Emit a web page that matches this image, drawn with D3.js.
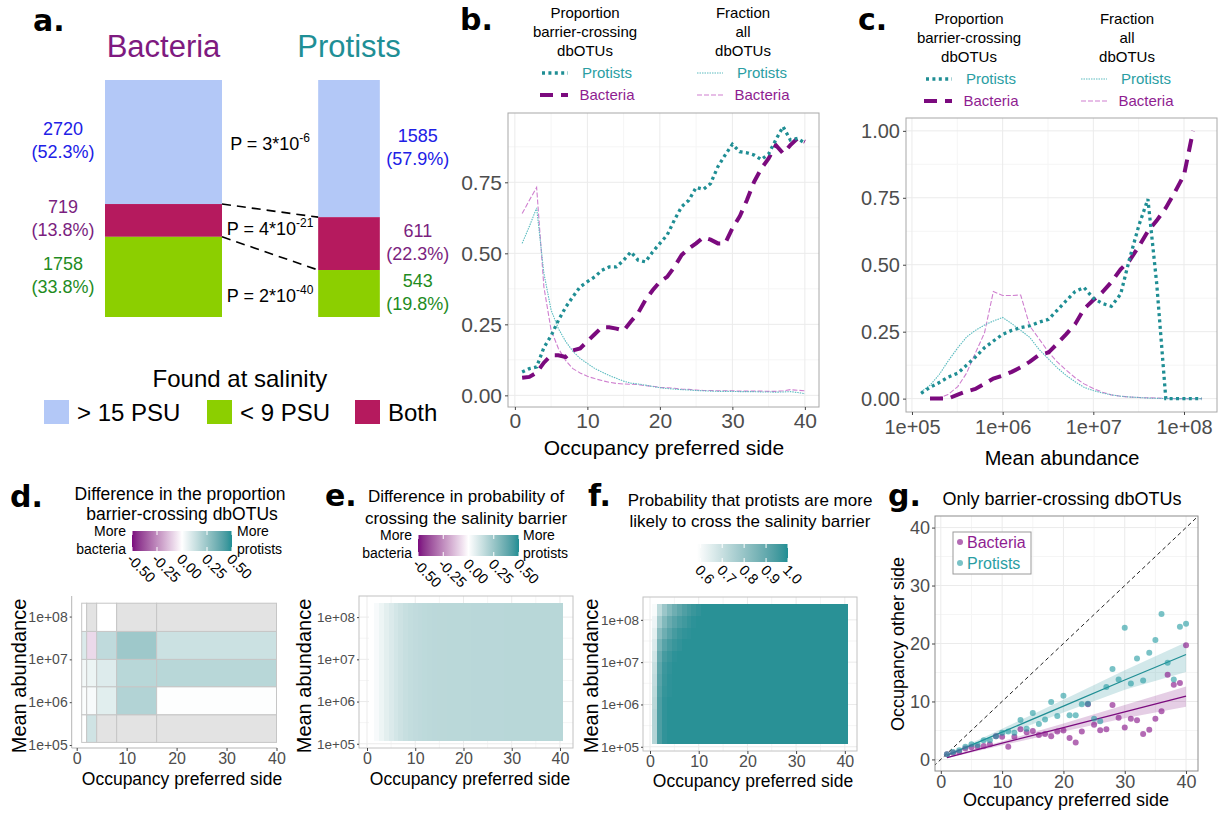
<!DOCTYPE html>
<html>
<head>
<meta charset="utf-8">
<script src="https://cdn.jsdelivr.net/npm/d3@7"></script>
<style>
body { margin: 0; background: #fff; }
</style>
</head>
<body>
<svg id="fig" width="1225" height="814"></svg>
<script>
// ---------- data ----------
// panel a
const groups = ["Bacteria", "Protists"];
const salinityCats = ["> 15 PSU", "Both", "< 9 PSU"];          // stacked top -> bottom
const legendCats = ["> 15 PSU", "< 9 PSU", "Both"];
const bacteriaCounts = [2720, 719, 1758];
const protistCounts = [1585, 611, 543];
const pMantissa = [3, 4, 2];
const pExponent = [-6, -21, -40];

// panel b (x = occupancy preferred side)
const occupancy = [1,2,3,4,5,6,7,8,9,10,11,12,13,14,15,16,17,18,19,20,21,22,23,24,25,26,27,28,29,30,31,32,33,34,35,36,37,38,39,40];
const propProtists = [0.082,0.094,0.10,0.168,0.21,0.264,0.31,0.347,0.382,0.40,0.417,0.44,0.452,0.452,0.476,0.505,0.476,0.47,0.505,0.535,0.564,0.617,0.664,0.687,0.732,0.725,0.746,0.805,0.846,0.884,0.858,0.854,0.846,0.83,0.85,0.9,0.946,0.899,0.905,0.887];
const propBacteria = [0.062,0.065,0.08,0.115,0.141,0.141,0.135,0.158,0.165,0.19,0.215,0.24,0.24,0.235,0.228,0.26,0.29,0.335,0.37,0.40,0.417,0.452,0.494,0.517,0.535,0.556,0.548,0.535,0.535,0.588,0.629,0.687,0.752,0.799,0.834,0.881,0.852,0.881,0.905,0.893];
const fracProtists = [0.535,0.595,0.66,0.43,0.30,0.235,0.19,0.155,0.13,0.112,0.095,0.082,0.07,0.06,0.05,0.043,0.04,0.036,0.031,0.027,0.024,0.022,0.02,0.019,0.017,0.016,0.015,0.014,0.014,0.014,0.013,0.013,0.013,0.012,0.012,0.011,0.012,0.013,0.01,0.006];
const fracBacteria = [0.64,0.687,0.732,0.382,0.229,0.165,0.123,0.094,0.079,0.067,0.059,0.052,0.046,0.042,0.04,0.039,0.038,0.034,0.032,0.028,0.027,0.025,0.022,0.021,0.019,0.017,0.017,0.016,0.016,0.016,0.015,0.015,0.015,0.015,0.014,0.014,0.016,0.02,0.018,0.016];

// panel c (x = mean abundance)
const abundance = [1.26e5,1.58e5,2.0e5,2.5e5,3.2e5,4.0e5,5.0e5,6.3e5,7.9e5,1.0e6,1.26e6,1.58e6,2.0e6,2.5e6,3.2e6,4.0e6,5.0e6,6.3e6,7.9e6,1.0e7,1.26e7,1.58e7,2.0e7,2.5e7,3.2e7,4.0e7,5.0e7,6.3e7,7.9e7,1.0e8,1.26e8,1.58e8];
const propProtistsAb = [0.02,0.042,0.06,0.08,0.095,0.125,0.155,0.19,0.215,0.24,0.255,0.265,0.272,0.285,0.296,0.33,0.365,0.40,0.415,0.375,0.355,0.345,0.39,0.52,0.65,0.745,0.43,0,0,0,0,0];
const propBacteriaAb = [null,0,0,0,0.015,0.027,0.036,0.055,0.075,0.086,0.10,0.117,0.138,0.163,0.172,0.205,0.24,0.278,0.335,0.368,0.398,0.435,0.483,0.515,0.57,0.625,0.665,0.712,0.77,0.835,1.0,null];
const fracProtistsAb = [0.025,0.05,0.09,0.14,0.19,0.23,0.255,0.275,0.29,0.303,0.28,0.255,0.228,0.185,0.148,0.115,0.087,0.063,0.042,0.03,0.021,0.014,0.009,0.006,0.004,0.002,0.001,0,0,0,0,0];
const fracBacteriaAb = [null,0,0.003,0.015,0.045,0.095,0.17,0.245,0.40,0.385,0.385,0.387,0.27,0.225,0.174,0.137,0.107,0.078,0.055,0.038,0.024,0.014,0.009,0.006,0.004,0.003,0.002,0.001,0,0,0,0];

// panel d (binned difference, rows = abundance bins bottom -> top, cols = occupancy bins)
const occEdgesD = [1, 2, 4, 8, 16, 40];
const abEdgesD = [1.15e5, 5.1e5, 2.3e6, 1.0e7, 4.5e7, 2.05e8];
const diffD = [
  [0.0, 0.12, null, null, null],
  [0.01, 0.02, 0.075, 0.19, 0.005],
  [0.03, 0.047, 0.085, 0.175, 0.175],
  [0.09, -0.08, 0.16, 0.24, 0.13],
  [0.0, null, 0.0, null, null]
];

// panel e (modelled difference per occupancy)
const abExtentE = [1.17e5, 2.15e8];
const diffE = [0.0,0.02,0.045,0.07,0.09,0.11,0.125,0.14,0.15,0.155,0.16,0.163,0.166,0.168,0.17,0.17,0.171,0.171,0.172,0.172,0.172,0.173,0.173,0.173,0.174,0.174,0.174,0.174,0.175,0.175,0.175,0.175,0.175,0.175,0.175,0.175,0.175,0.175,0.175,0.175];

// panel f (probability; rows = abundance bands bottom -> top)
const abEdgesF = [1.23e5,2.31e5,4.35e5,8.17e5,1.53e6,2.88e6,5.42e6,1.02e7,1.91e7,3.6e7,6.76e7,1.27e8,2.39e8];
const probFHead = [
  [0.74,0.94,0.98,0.99,0.99,0.99,0.99,0.99,0.99,0.99],
  [0.74,0.94,0.98,0.99,0.99,0.99,0.99,0.99,0.99,0.99],
  [0.74,0.94,0.98,0.99,0.99,0.99,0.99,0.99,0.99,0.99],
  [0.73,0.94,0.98,0.99,0.99,0.99,0.99,0.99,0.99,0.99],
  [0.72,0.93,0.975,0.985,0.99,0.99,0.99,0.99,0.99,0.99],
  [0.71,0.92,0.97,0.985,0.99,0.99,0.99,0.99,0.99,0.99],
  [0.70,0.91,0.965,0.98,0.99,0.99,0.99,0.99,0.99,0.99],
  [0.68,0.89,0.95,0.97,0.985,0.99,0.99,0.99,0.99,0.99],
  [0.66,0.86,0.92,0.95,0.97,0.98,0.99,0.99,0.99,0.99],
  [0.64,0.82,0.88,0.92,0.95,0.97,0.98,0.985,0.99,0.99],
  [0.62,0.77,0.84,0.89,0.92,0.945,0.96,0.975,0.985,0.99],
  [0.60,0.72,0.79,0.84,0.88,0.91,0.935,0.955,0.97,0.98]
];
const probFTail = [0.99,0.99,0.99,0.99,0.99,0.99,0.99,0.99,0.99,0.99,0.99,0.99];

// panel g (only barrier-crossing dbOTUs)
const gProtists = [0.9,1.3,1.6,2.2,2.6,2.5,3.3,3.3,4.0,4.6,4.8,4.6,6.8,5.3,8.0,6.1,6.9,9.9,7.5,11.0,7.6,7.6,9.5,9.6,7.0,6.6,12.5,15.6,13.8,22.7,13.1,17.4,13.6,18.4,20.6,25.1,16.7,13.8,22.9,23.4];
const gBacteria = [0.9,1.15,1.3,1.9,2.1,2.2,2.3,2.6,4.0,3.9,2.2,3.9,5.2,4.7,4.9,4.2,4.4,4.0,4.8,5.0,3.7,2.9,4.8,9.5,6.0,5.05,5.2,9.4,7.2,5.5,7.0,6.75,4.4,5.1,7.0,8.3,14.6,12.9,13.2,19.7];
const fitX = [1, 10, 20, 30, 40];
const fitProt = [0.7, 4.7, 9.2, 13.7, 18.1];
const fitProtLo = [0.55, 4.1, 8.1, 12.0, 15.1];
const fitProtHi = [0.85, 5.3, 10.3, 15.4, 20.2];
const fitBac = [0.3, 2.8, 5.5, 8.2, 10.9];
const fitBacLo = [0.2, 2.45, 4.8, 7.1, 9.1];
const fitBacHi = [0.4, 3.15, 6.2, 9.4, 12.6];

// ---------- styles ----------
const FONT = '"Liberation Sans", Arial, sans-serif';
const TAGFONT = '"DejaVu Sans", sans-serif';
const TEAL = "#1f8e94", PURPLE = "#7b0a7e";
const TEAL_TXT = "#2a9ea3", PURPLE_TXT = "#8f1d91";
const salFill = {"> 15 PSU": "#b3c8f7", "< 9 PSU": "#8ccf00", "Both": "#b51a5e"};
const salText = {"> 15 PSU": "#2020e6", "< 9 PSU": "#1f8c1f", "Both": "#7b1f80"};
const lineStyles = {
  propP: {stroke: TEAL, width: 3.3, dash: "3,3.4"},
  propB: {stroke: PURPLE, width: 4, dash: "13,8"},
  fracP: {stroke: "#5cbcc0", width: 1.1, dash: "1.5,1"},
  fracB: {stroke: "#cf7fcf", width: 1.1, dash: "5,2"}
};

const svg = d3.select("#fig");
svg.append("rect").attr("width", 1225).attr("height", 814).attr("fill", "#fff");
const defs = svg.append("defs");

function txt(x, y, s, size, opts = {}) {
  return svg.append("text").attr("x", x).attr("y", y).text(s)
    .attr("font-family", opts.family || FONT).attr("font-size", size)
    .attr("fill", opts.fill || "#000").attr("text-anchor", opts.anchor || "start")
    .attr("font-weight", opts.weight || "normal");
}
function tag(x, y, s) { txt(x, y, s, 30, {family: TAGFONT, weight: "bold"}); }
function yTitle(x, y, s, size) {
  svg.append("text").attr("transform", `translate(${x},${y}) rotate(-90)`).attr("text-anchor", "middle")
    .attr("font-family", FONT).attr("font-size", size).text(s);
}

function grid(g, xs, ys, xMaj, xMin, yMaj, yMin) {
  const [xa, xb] = xs.range(), [ya, yb] = ys.range();
  const add = (vals, isX, col) => g.append("g").selectAll("line").data(vals).join("line")
    .attr("x1", d => isX ? xs(d) : xa).attr("x2", d => isX ? xs(d) : xb)
    .attr("y1", d => isX ? ya : ys(d)).attr("y2", d => isX ? yb : ys(d))
    .attr("stroke", col).attr("stroke-width", 1);
  add(xMin, true, "#f5f5f5"); add(yMin, false, "#f5f5f5");
  add(xMaj, true, "#ebebeb"); add(yMaj, false, "#ebebeb");
}
function border(g, xs, ys, col) {
  const [xa, xb] = xs.range(), [ya, yb] = ys.range();
  g.append("rect").attr("x", xa).attr("y", yb).attr("width", xb - xa).attr("height", ya - yb)
    .attr("fill", "none").attr("stroke", col).attr("stroke-width", 1);
}
function styleAxis(g, size) {
  g.attr("font-family", FONT).attr("font-size", size);
  g.select(".domain").remove();
  g.selectAll(".tick line").attr("stroke", "#444");
  g.selectAll(".tick text").attr("fill", "#4d4d4d");
}
const sciFmt = d => "1e+0" + Math.round(Math.log10(d));

function styledPath(g, pts, st, line) {
  g.append("path").datum(pts).attr("d", line).attr("fill", "none")
    .attr("stroke", st.stroke).attr("stroke-width", st.width).attr("stroke-dasharray", st.dash);
}

// ========== panel a ==========
tag(33, 31, "a.");
const aTotals = [d3.sum(bacteriaCounts), d3.sum(protistCounts)];
const aCounts = [bacteriaCounts, protistCounts];
const ay = d3.scaleLinear().domain([0, 1]).range([80, 317]);
const aw = d3.scaleLinear().domain([0, aTotals[0]]).range([0, 117]);
const ax = d3.scalePoint().domain(groups).range([163.5, 349]);
const aSegs = groups.map((gname, gi) => {
  let cum = 0;
  return salinityCats.map((cat, ci) => {
    const frac = aCounts[gi][ci] / aTotals[gi];
    const s = {group: gname, cat, count: aCounts[gi][ci], frac, y0: cum, y1: cum + frac,
      x: ax(gname) - aw(aTotals[gi]) / 2, w: aw(aTotals[gi])};
    cum += frac;
    return s;
  });
});
groups.forEach((gname, gi) => {
  txt(ax(gname), 57, gname, 31, {anchor: "middle", fill: gi === 0 ? "#7e1a80" : "#1f8f96"});
});
svg.append("g").selectAll("rect").data(aSegs.flat()).join("rect")
  .attr("x", d => d.x).attr("width", d => d.w)
  .attr("y", d => ay(d.y0)).attr("height", d => ay(d.y1) - ay(d.y0))
  .attr("fill", d => salFill[d.cat]);
aSegs.forEach((segs, gi) => {
  segs.forEach(s => {
    const cx = gi === 0 ? s.x - 42 : s.x + s.w + 38;
    const cy = (ay(s.y0) + ay(s.y1)) / 2;
    txt(cx, cy - 7, String(s.count), 18, {anchor: "middle", fill: salText[s.cat]});
    txt(cx, cy + 16, "(" + (s.frac * 100).toFixed(1) + "%)", 18, {anchor: "middle", fill: salText[s.cat]});
  });
});
// dashed connectors between category boundaries
[0, 1].forEach(ci => {
  const b = aSegs[0][ci], p = aSegs[1][ci];
  svg.append("line").attr("x1", b.x + b.w).attr("y1", ay(b.y1))
    .attr("x2", p.x).attr("y2", ay(p.y1))
    .attr("stroke", "#000").attr("stroke-width", 1.6).attr("stroke-dasharray", "9,6");
});
salinityCats.forEach((cat, ci) => {
  const b = aSegs[0][ci], p = aSegs[1][ci];
  const top = Math.max(ay(b.y0), ay(p.y0)), bot = Math.min(ay(b.y1), ay(p.y1));
  const cx = (b.x + b.w + p.x) / 2;
  const t = txt(cx, (top + bot) / 2 + 8, "P = " + pMantissa[ci] + "*10", 18, {anchor: "middle"});
  t.append("tspan").attr("dy", -8).attr("font-size", 12).text(String(pExponent[ci]));
});
// legend
txt(240, 387, "Found at salinity", 24, {anchor: "middle"});
const legXs = {"> 15 PSU": 44, "< 9 PSU": 207, "Both": 355};
legendCats.forEach(cat => {
  svg.append("rect").attr("x", legXs[cat]).attr("y", 400).attr("width", 25).attr("height", 24).attr("fill", salFill[cat]);
  txt(legXs[cat] + 33, 421, cat, 24);
});

// ========== legends for b and c ==========
function lineLegend(ox, oy) {
  const left = 585 + ox, right = 743 + ox;
  ["Proportion", "barrier-crossing", "dbOTUs"].forEach((s, i) => txt(left, 18 + oy + i * 19, s, 15, {anchor: "middle"}));
  ["Fraction", "all", "dbOTUs"].forEach((s, i) => txt(right, 18 + oy + i * 19, s, 15, {anchor: "middle"}));
  const rows = [
    {y: 73, st: lineStyles.propP, x0: 542, x1: 568, tx: 607, label: "Protists", col: TEAL_TXT},
    {y: 95, st: lineStyles.propB, x0: 540, x1: 568, tx: 607, label: "Bacteria", col: PURPLE_TXT},
    {y: 73, st: lineStyles.fracP, x0: 697, x1: 723, tx: 762, label: "Protists", col: TEAL_TXT},
    {y: 95, st: lineStyles.fracB, x0: 697, x1: 723, tx: 762, label: "Bacteria", col: PURPLE_TXT}
  ];
  rows.forEach(r => {
    svg.append("line").attr("x1", r.x0 + ox).attr("x2", r.x1 + ox).attr("y1", r.y + oy).attr("y2", r.y + oy)
      .attr("stroke", r.st.stroke).attr("stroke-width", r.st.width).attr("stroke-dasharray", r.st.dash);
    txt(r.tx + ox, r.y + oy + 5, r.label, 15, {anchor: "middle", fill: r.col});
  });
}

// ========== panel b ==========
tag(460, 30, "b.");
lineLegend(0, 0);
const bx = d3.scaleLinear().domain([-0.95, 41.95]).range([508, 819]);
const by = d3.scaleLinear().domain([-0.041, 0.994]).range([407, 113]);
const gb = svg.append("g");
grid(gb, bx, by, [0, 10, 20, 30, 40], [5, 15, 25, 35], [0, 0.25, 0.5, 0.75], [0.125, 0.375, 0.625, 0.875]);
const bLine = d3.line().x(d => bx(d[0])).y(d => by(d[1]));
const zipOcc = arr => occupancy.map((o, i) => [o, arr[i]]);
styledPath(gb, zipOcc(fracBacteria), lineStyles.fracB, bLine);
styledPath(gb, zipOcc(fracProtists), lineStyles.fracP, bLine);
styledPath(gb, zipOcc(propBacteria), lineStyles.propB, bLine);
styledPath(gb, zipOcc(propProtists), lineStyles.propP, bLine);
border(gb, bx, by, "#a8a8a8");
styleAxis(svg.append("g").attr("transform", "translate(0,407)")
  .call(d3.axisBottom(bx).tickValues([0, 10, 20, 30, 40]).tickSize(3).tickPadding(3)), 21);
styleAxis(svg.append("g").attr("transform", "translate(508,0)")
  .call(d3.axisLeft(by).tickValues([0, 0.25, 0.5, 0.75]).tickFormat(d3.format(".2f")).tickSize(3).tickPadding(3)), 21);
txt(664, 455, "Occupancy preferred side", 21, {anchor: "middle"});

// ========== panel c ==========
tag(858, 30, "c.");
lineLegend(384, 6);
const cx = d3.scaleLog().domain([10 ** 4.934, 10 ** 8.364]).range([906, 1217]);
const cy = d3.scaleLinear().domain([-0.05, 1.048]).range([412, 118]);
const gc = svg.append("g");
grid(gc, cx, cy, [1e5, 1e6, 1e7, 1e8], [10 ** 5.5, 10 ** 6.5, 10 ** 7.5],
  [0, 0.25, 0.5, 0.75, 1], [0.125, 0.375, 0.625, 0.875]);
const cLine = d3.line().defined(d => d[1] != null).x(d => cx(d[0])).y(d => cy(d[1]));
const zipAb = arr => abundance.map((a, i) => [a, arr[i]]);
styledPath(gc, zipAb(fracBacteriaAb), lineStyles.fracB, cLine);
styledPath(gc, zipAb(fracProtistsAb), lineStyles.fracP, cLine);
styledPath(gc, zipAb(propBacteriaAb), lineStyles.propB, cLine);
styledPath(gc, zipAb(propProtistsAb), lineStyles.propP, cLine);
border(gc, cx, cy, "#a8a8a8");
styleAxis(svg.append("g").attr("transform", "translate(0,412)")
  .call(d3.axisBottom(cx).tickValues([1e5, 1e6, 1e7, 1e8]).tickFormat(sciFmt).tickSize(3).tickPadding(5)), 20);
styleAxis(svg.append("g").attr("transform", "translate(906,0)")
  .call(d3.axisLeft(cy).tickValues([0, 0.25, 0.5, 0.75, 1]).tickFormat(d3.format(".2f")).tickSize(3).tickPadding(3)), 20);
txt(1062, 465, "Mean abundance", 20, {anchor: "middle"});

// ========== colour scales + colorbar ==========
const divScale = d3.scaleLinear().domain([-0.5, 0, 0.5]).range([PURPLE, "#ffffff", TEAL])
  .interpolate(d3.interpolateLab).clamp(true);
const probScale = d3.scaleLinear().domain([0.585, 1.0]).range(["#ffffff", TEAL])
  .interpolate(d3.interpolateLab).clamp(true);

function colorbar(id, x0, x1, y0, y1, scale, ticks, fmt) {
  const dom = scale.domain();
  const d0 = dom[0], d1 = dom[dom.length - 1];
  const cb = d3.scaleLinear().domain([d0, d1]).range([x0, x1]);
  const grad = defs.append("linearGradient").attr("id", id);
  d3.range(0, 1.0001, 0.05).forEach(t => grad.append("stop")
    .attr("offset", t).attr("stop-color", scale(d0 + t * (d1 - d0))));
  svg.append("rect").attr("x", x0).attr("y", y0).attr("width", x1 - x0).attr("height", y1 - y0)
    .attr("fill", `url(#${id})`);
  ticks.forEach(t => {
    svg.append("line").attr("x1", cb(t)).attr("x2", cb(t)).attr("y1", y0).attr("y2", y0 + 4).attr("stroke", "#fff");
    svg.append("line").attr("x1", cb(t)).attr("x2", cb(t)).attr("y1", y1 - 4).attr("y2", y1).attr("stroke", "#fff");
    svg.append("text").attr("transform", `translate(${cb(t) - 6},${y1 + 9}) rotate(45)`)
      .attr("font-family", FONT).attr("font-size", 14.5).attr("fill", "#000").text(fmt(t));
  });
}
function moreLabels(xl, xr, y) {
  txt(xl, y, "More", 14, {anchor: "end"});
  txt(xl, y + 18, "bacteria", 14, {anchor: "end"});
  txt(xr, y, "More", 14);
  txt(xr, y + 18, "protists", 14);
}
const divTicks = [-0.5, -0.25, 0, 0.25, 0.5];
const fmt2 = d => d3.format(".2f")(d).replace("−", "-");

// ========== panel d ==========
tag(10, 507, "d.");
txt(180, 500, "Difference in the proportion", 17.5, {anchor: "middle"});
txt(182, 520, "barrier-crossing dbOTUs", 17.5, {anchor: "middle"});
colorbar("cbd", 132, 232, 531, 551, divScale, divTicks, fmt2);
moreLabels(126, 237, 536);
const dx = d3.scaleLinear().domain([-1, 40.1]).range([71.7, 277]);
const dy = d3.scaleLog().domain([10 ** 4.93, 10 ** 8.48]).range([748, 596]);
const dTiles = [];
diffD.forEach((row, r) => row.forEach((v, c) => dTiles.push({
  x0: occEdgesD[c], x1: occEdgesD[c + 1], y0: abEdgesD[r], y1: abEdgesD[r + 1], v})));
svg.append("g").selectAll("rect").data(dTiles).join("rect")
  .attr("x", d => dx(d.x0)).attr("width", d => dx(d.x1) - dx(d.x0))
  .attr("y", d => dy(d.y1)).attr("height", d => dy(d.y0) - dy(d.y1))
  .attr("fill", d => d.v == null ? "#e3e3e3" : divScale(d.v))
  .attr("stroke", "#c6c6c6").attr("stroke-width", 1);
svg.append("line").attr("x1", 71.7).attr("x2", 71.7).attr("y1", 596).attr("y2", 748).attr("stroke", "#b5b5b5");
svg.append("line").attr("x1", 71.7).attr("x2", 277).attr("y1", 748).attr("y2", 748).attr("stroke", "#b5b5b5");
styleAxis(svg.append("g").attr("transform", "translate(0,748)")
  .call(d3.axisBottom(dx).tickValues([0, 10, 20, 30, 40]).tickSize(3).tickPadding(2)), 16);
styleAxis(svg.append("g").attr("transform", "translate(71.7,0)")
  .call(d3.axisLeft(dy).tickValues([1e5, 1e6, 1e7, 1e8]).tickFormat(sciFmt).tickSize(2).tickPadding(2)), 14);
txt(182, 785, "Occupancy preferred side", 17.5, {anchor: "middle"});
yTitle(26, 676, "Mean abundance", 20);

// ========== panel e ==========
tag(325, 506, "e.");
txt(466, 502, "Difference in probability of", 17, {anchor: "middle"});
txt(466, 524, "crossing the salinity barrier", 17, {anchor: "middle"});
colorbar("cbe", 418, 519, 535, 556, divScale, divTicks, fmt2);
moreLabels(412, 523, 540);
const ex = d3.scaleLinear().domain([-1.66, 42.7]).range([359, 573]);
const ey = d3.scaleLog().domain([10 ** 4.9, 10 ** 8.5]).range([748, 596]);
const ge = svg.append("g");
grid(ge, ex, ey, [0, 10, 20, 30, 40], [5, 15, 25, 35], [1e5, 1e6, 1e7, 1e8], [10 ** 5.5, 10 ** 6.5, 10 ** 7.5]);
ge.append("g").attr("shape-rendering", "crispEdges").selectAll("rect")
  .data(occupancy.map((o, i) => ({o, v: diffE[i]}))).join("rect")
  .attr("x", d => ex(d.o - 0.5)).attr("width", d => ex(d.o + 0.5) - ex(d.o - 0.5) + 0.6)
  .attr("y", ey(abExtentE[1])).attr("height", ey(abExtentE[0]) - ey(abExtentE[1]))
  .attr("fill", d => divScale(d.v));
border(ge, ex, ey, "#c2c2c2");
styleAxis(svg.append("g").attr("transform", "translate(0,748)")
  .call(d3.axisBottom(ex).tickValues([0, 10, 20, 30, 40]).tickSize(3).tickPadding(2)), 16);
styleAxis(svg.append("g").attr("transform", "translate(359,0)")
  .call(d3.axisLeft(ey).tickValues([1e5, 1e6, 1e7, 1e8]).tickFormat(sciFmt).tickSize(2).tickPadding(2)), 13.5);
txt(470, 785, "Occupancy preferred side", 17.5, {anchor: "middle"});
yTitle(311, 676, "Mean abundance", 20);

// ========== panel f ==========
tag(588, 506, "f.");
txt(750, 506, "Probability that protists are more", 17, {anchor: "middle"});
txt(750, 527, "likely to cross the salinity barrier", 17, {anchor: "middle"});
colorbar("cbf", 697, 788, 544, 562, probScale, [0.6, 0.7, 0.8, 0.9, 1.0], d3.format(".1f"));
const fx = d3.scaleLinear().domain([-1.44, 42.5]).range([643, 857]);
const fy = d3.scaleLog().domain([10 ** 4.9, 10 ** 8.54]).range([751, 597]);
const gf = svg.append("g");
grid(gf, fx, fy, [0, 10, 20, 30, 40], [5, 15, 25, 35], [1e5, 1e6, 1e7, 1e8], [10 ** 5.5, 10 ** 6.5, 10 ** 7.5]);
const fCells = [];
probFHead.forEach((row, r) => occupancy.forEach(o => fCells.push({
  o, y0: abEdgesF[r], y1: abEdgesF[r + 1], v: o <= row.length ? row[o - 1] : probFTail[r]})));
gf.append("g").attr("shape-rendering", "crispEdges").selectAll("rect").data(fCells).join("rect")
  .attr("x", d => fx(d.o - 0.5)).attr("width", d => fx(d.o + 0.5) - fx(d.o - 0.5) + 0.6)
  .attr("y", d => fy(d.y1)).attr("height", d => fy(d.y0) - fy(d.y1) + 0.6)
  .attr("fill", d => probScale(d.v));
border(gf, fx, fy, "#c2c2c2");
styleAxis(svg.append("g").attr("transform", "translate(0,751)")
  .call(d3.axisBottom(fx).tickValues([0, 10, 20, 30, 40]).tickSize(3).tickPadding(2)), 16);
styleAxis(svg.append("g").attr("transform", "translate(643,0)")
  .call(d3.axisLeft(fy).tickValues([1e5, 1e6, 1e7, 1e8]).tickFormat(sciFmt).tickSize(2).tickPadding(2)), 13.5);
txt(753, 787, "Occupancy preferred side", 17.5, {anchor: "middle"});
yTitle(598, 676, "Mean abundance", 20);

// ========== panel g ==========
tag(888, 506, "g.");
txt(1062, 505, "Only barrier-crossing dbOTUs", 18, {anchor: "middle"});
const gx = d3.scaleLinear().domain([-0.95, 41.95]).range([935, 1198]);
const gy = d3.scaleLinear().domain([-2, 42]).range([771, 516]);
const gg = svg.append("g");
grid(gg, gx, gy, [0, 10, 20, 30, 40], [5, 15, 25, 35], [0, 10, 20, 30, 40], [5, 15, 25, 35]);
defs.append("clipPath").attr("id", "clipg").append("rect")
  .attr("x", 935).attr("y", 516).attr("width", 263).attr("height", 255);
gg.append("line").attr("clip-path", "url(#clipg)")
  .attr("x1", gx(-2)).attr("y1", gy(-2)).attr("x2", gx(44)).attr("y2", gy(44))
  .attr("stroke", "#222").attr("stroke-width", 1).attr("stroke-dasharray", "4,3");
const fitRows = fitX.map((x, i) => ({x, pm: fitProt[i], pl: fitProtLo[i], ph: fitProtHi[i], bm: fitBac[i], bl: fitBacLo[i], bh: fitBacHi[i]}));
const band = (lo, hi) => d3.area().x(d => gx(d.x)).y0(d => gy(d[lo])).y1(d => gy(d[hi]));
gg.append("path").datum(fitRows).attr("d", band("bl", "bh")).attr("fill", PURPLE).attr("opacity", 0.2);
gg.append("path").datum(fitRows).attr("d", band("pl", "ph")).attr("fill", TEAL).attr("opacity", 0.2);
gg.append("path").datum(fitRows).attr("d", d3.line().x(d => gx(d.x)).y(d => gy(d.bm)))
  .attr("fill", "none").attr("stroke", PURPLE).attr("stroke-width", 1.3);
gg.append("path").datum(fitRows).attr("d", d3.line().x(d => gx(d.x)).y(d => gy(d.pm)))
  .attr("fill", "none").attr("stroke", TEAL).attr("stroke-width", 1.3);
gg.append("g").selectAll("circle").data(occupancy.map((o, i) => [o, gBacteria[i]])).join("circle")
  .attr("cx", d => gx(d[0])).attr("cy", d => gy(d[1])).attr("r", 3)
  .attr("fill", "#8b1a8c").attr("opacity", 0.65);
gg.append("g").selectAll("circle").data(occupancy.map((o, i) => [o, gProtists[i]])).join("circle")
  .attr("cx", d => gx(d[0])).attr("cy", d => gy(d[1])).attr("r", 3)
  .attr("fill", "#1f9aa0").attr("opacity", 0.6);
border(gg, gx, gy, "#8c8c8c");
// legend
gg.append("rect").attr("x", 953).attr("y", 532).attr("width", 78).attr("height", 42)
  .attr("fill", "#fff").attr("stroke", "#9a9a9a");
gg.append("circle").attr("cx", 960).attr("cy", 542).attr("r", 3).attr("fill", "#8b1a8c").attr("opacity", 0.65);
gg.append("circle").attr("cx", 960).attr("cy", 563).attr("r", 3).attr("fill", "#1f9aa0").attr("opacity", 0.6);
txt(967, 548, "Bacteria", 16, {fill: PURPLE_TXT});
txt(967, 569, "Protists", 16, {fill: TEAL_TXT});
styleAxis(svg.append("g").attr("transform", "translate(0,771)")
  .call(d3.axisBottom(gx).tickValues([0, 10, 20, 30, 40]).tickSize(3).tickPadding(1)), 18);
styleAxis(svg.append("g").attr("transform", "translate(935,0)")
  .call(d3.axisLeft(gy).tickValues([0, 10, 20, 30, 40]).tickSize(3).tickPadding(2)), 18);
txt(1066, 806, "Occupancy preferred side", 18, {anchor: "middle"});
yTitle(904, 644, "Occupancy other side", 18);
</script>
</body>
</html>
